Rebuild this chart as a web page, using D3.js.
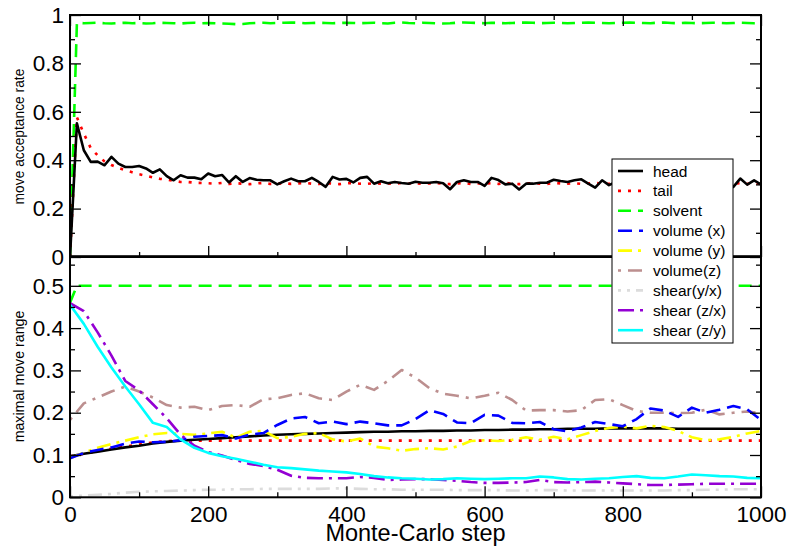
<!DOCTYPE html>
<html><head><meta charset="utf-8">
<script src="https://cdn.jsdelivr.net/npm/d3@7"></script>
<style>body{margin:0;background:#fff}svg{display:block}text{font-family:"Liberation Sans",Arial,Helvetica,sans-serif}</style>
</head><body><svg id="c" width="787" height="550"></svg>
<script>
// ---------- data ----------
const topSteps = d3.range(0, 1001, 10);
const headRate = [0,0.552,0.441,0.393,0.394,0.379,0.414,0.386,0.372,0.372,0.376,0.366,0.348,0.362,0.334,0.317,0.338,0.328,0.328,0.321,0.345,0.334,0.339,0.308,0.334,0.31,0.326,0.319,0.317,0.317,0.30,0.313,0.324,0.313,0.313,0.327,0.31,0.29,0.331,0.32,0.323,0.308,0.327,0.331,0.303,0.313,0.305,0.31,0.306,0.303,0.311,0.307,0.307,0.31,0.305,0.28,0.31,0.317,0.31,0.31,0.294,0.327,0.318,0.3,0.303,0.279,0.303,0.303,0.307,0.307,0.319,0.314,0.31,0.317,0.321,0.303,0.287,0.317,0.297,0.31,0.305,0.318,0.302,0.311,0.296,0.315,0.308,0.32,0.303,0.31,0.298,0.314,0.306,0.317,0.302,0.308,0.29,0.324,0.299,0.317,0.3];
const tailRate = [0,0.577,0.51,0.45,0.42,0.395,0.38,0.368,0.358,0.35,0.342,0.336,0.329,0.323,0.32,0.315,0.31,0.31,0.307,0.306,0.305,0.303,0.306,0.302,0.305,0.303,0.301,0.304,0.306,0.302,0.303,0.305,0.302,0.304,0.306,0.303,0.302,0.305,0.303,0.301,0.304,0.306,0.303,0.302,0.305,0.303,0.304,0.302,0.306,0.303,0.305,0.302,0.304,0.306,0.303,0.301,0.304,0.306,0.302,0.304,0.303,0.305,0.302,0.306,0.303,0.301,0.304,0.305,0.303,0.302,0.306,0.304,0.303,0.305,0.302,0.304,0.306,0.303,0.302,0.305,0.303,0.304,0.302,0.306,0.303,0.305,0.302,0.304,0.306,0.303,0.302,0.305,0.303,0.304,0.302,0.306,0.303,0.305,0.302,0.304,0.303];
const solventRate = [0,0.968,0.966,0.967,0.968,0.966,0.965,0.967,0.968,0.966,0.967,0.965,0.966,0.968,0.967,0.966,0.965,0.967,0.968,0.966,0.967,0.966,0.965,0.964,0.962,0.963,0.966,0.967,0.968,0.966,0.967,0.968,0.969,0.968,0.966,0.967,0.968,0.967,0.966,0.967,0.968,0.967,0.966,0.967,0.968,0.966,0.965,0.968,0.969,0.967,0.966,0.968,0.967,0.966,0.965,0.966,0.968,0.969,0.968,0.967,0.966,0.968,0.967,0.966,0.967,0.968,0.969,0.968,0.966,0.967,0.968,0.967,0.966,0.967,0.968,0.969,0.968,0.967,0.966,0.967,0.968,0.969,0.968,0.967,0.966,0.968,0.969,0.967,0.966,0.968,0.967,0.966,0.967,0.968,0.967,0.966,0.967,0.968,0.967,0.966,0.967];

const botSteps = d3.range(0, 1001, 20);
const headRange = [0.097,0.103,0.108,0.113,0.118,0.122,0.127,0.131,0.134,0.136,0.138,0.14,0.142,0.144,0.146,0.148,0.149,0.15,0.151,0.152,0.153,0.154,0.155,0.155,0.156,0.156,0.157,0.157,0.158,0.158,0.159,0.159,0.16,0.16,0.161,0.161,0.162,0.162,0.162,0.163,0.163,0.163,0.163,0.163,0.162,0.162,0.162,0.162,0.162,0.162,0.162];
const tailRange = [0.097,0.103,0.109,0.115,0.12,0.125,0.13,0.133,0.134,0.134,0.134,0.134,0.134,0.134,0.134,0.134,0.134,0.134,0.134,0.134,0.134,0.134,0.134,0.134,0.134,0.134,0.134,0.134,0.134,0.134,0.134,0.134,0.134,0.134,0.134,0.134,0.134,0.134,0.134,0.134,0.134,0.134,0.134,0.134,0.134,0.134,0.134,0.134,0.134,0.134,0.134];
const solventSteps = [0, 10, 1000];
const solventRange = [0.46, 0.5, 0.5];
const volXRange = [0.092,0.105,0.112,0.118,0.127,0.132,0.13,0.131,0.135,0.143,0.145,0.147,0.139,0.148,0.152,0.171,0.186,0.19,0.175,0.179,0.173,0.179,0.175,0.17,0.17,0.185,0.206,0.197,0.177,0.175,0.195,0.193,0.176,0.175,0.178,0.161,0.156,0.165,0.178,0.173,0.168,0.185,0.21,0.205,0.19,0.212,0.2,0.207,0.216,0.208,0.183];
const volYRange = [0.092,0.106,0.117,0.126,0.134,0.142,0.149,0.152,0.15,0.148,0.151,0.155,0.141,0.155,0.157,0.14,0.143,0.15,0.152,0.137,0.132,0.139,0.12,0.116,0.11,0.114,0.116,0.113,0.12,0.133,0.135,0.133,0.136,0.142,0.136,0.143,0.137,0.147,0.157,0.164,0.167,0.163,0.169,0.166,0.157,0.142,0.135,0.137,0.143,0.151,0.157];
const volZRange = [0.183,0.222,0.236,0.25,0.262,0.25,0.236,0.218,0.212,0.214,0.206,0.216,0.218,0.214,0.232,0.234,0.242,0.246,0.234,0.23,0.25,0.266,0.254,0.275,0.301,0.283,0.258,0.245,0.24,0.234,0.24,0.247,0.23,0.205,0.206,0.206,0.203,0.206,0.23,0.232,0.218,0.204,0.2,0.2,0.199,0.2,0.207,0.196,0.2,0.203,0.199];
const shearYXRange = [0.002,0.004,0.006,0.008,0.011,0.013,0.014,0.015,0.016,0.017,0.018,0.018,0.019,0.019,0.02,0.02,0.02,0.02,0.02,0.021,0.021,0.02,0.019,0.019,0.018,0.018,0.018,0.018,0.017,0.017,0.017,0.017,0.016,0.016,0.017,0.017,0.016,0.016,0.016,0.016,0.016,0.016,0.016,0.016,0.017,0.017,0.018,0.018,0.019,0.019,0.019];
const shearZXRange = [0.459,0.44,0.39,0.335,0.275,0.253,0.22,0.187,0.148,0.122,0.107,0.099,0.088,0.079,0.074,0.065,0.051,0.046,0.045,0.045,0.045,0.048,0.046,0.041,0.042,0.043,0.043,0.041,0.039,0.036,0.034,0.034,0.035,0.036,0.041,0.036,0.035,0.036,0.037,0.035,0.033,0.031,0.029,0.029,0.03,0.031,0.032,0.032,0.032,0.032,0.032];
const shearZYRange = [0.455,0.41,0.356,0.307,0.262,0.22,0.176,0.166,0.137,0.117,0.105,0.097,0.091,0.084,0.077,0.071,0.069,0.066,0.063,0.061,0.059,0.055,0.05,0.047,0.045,0.044,0.042,0.043,0.045,0.044,0.043,0.044,0.045,0.045,0.049,0.047,0.043,0.042,0.044,0.045,0.048,0.05,0.046,0.045,0.049,0.054,0.052,0.05,0.049,0.046,0.045];

const xTicks = [0, 200, 400, 600, 800, 1000];
const topYTicks = [0, 0.2, 0.4, 0.6, 0.8, 1];
const botYTicks = [0, 0.1, 0.2, 0.3, 0.4, 0.5];
const legendLabels = ["head","tail","solvent","volume (x)","volume (y)","volume(z)","shear(y/x)","shear (z/x)","shear (z/y)"];

// ---------- styles ----------
const styles = {
  "head":        {color:"#000000", dash:null},
  "tail":        {color:"#ff0000", dash:"3,7"},
  "solvent":     {color:"#00ff00", dash:"13,7"},
  "volume (x)":  {color:"#0000ff", dash:"14,7"},
  "volume (y)":  {color:"#ffff00", dash:"14,6,3,6"},
  "volume(z)":   {color:"#bc8f8f", dash:"3,7,14,7"},
  "shear(y/x)":  {color:"#dcdcdc", dash:"3,6,3,6,14,6"},
  "shear (z/x)": {color:"#9400d3", dash:"16,6,3,6"},
  "shear (z/y)": {color:"#00ffff", dash:null}
};

const svg = d3.select("#c");
const L = 70, R = 761;
const x = d3.scaleLinear().domain([0, 1000]).range([L, R]);
const yTop = d3.scaleLinear().domain([0, 1]).range([257, 15]);
const yBot = d3.scaleLinear().domain([0, 0.57]).range([497.3, 256.2]);

svg.append("defs").call(d => {
  d.append("clipPath").attr("id","cTop").append("rect").attr("x",L).attr("y",15).attr("width",R-L).attr("height",242);
  d.append("clipPath").attr("id","cBot").append("rect").attr("x",L).attr("y",256.2).attr("width",R-L).attr("height",241.1);
});

function drawLine(clip, xs, ys, yScale, name) {
  const st = styles[name];
  const pts = xs.map((s, i) => [s, ys[i]]);
  const p = svg.append("path").attr("clip-path", `url(#${clip})`)
    .datum(pts)
    .attr("fill","none").attr("stroke", st.color).attr("stroke-width", 2.6)
    .attr("stroke-linejoin","round")
    .attr("d", d3.line().x(d => x(d[0])).y(d => yScale(d[1])));
  if (st.dash) p.attr("stroke-dasharray", st.dash);
}

// top panel
drawLine("cTop", topSteps, solventRate, yTop, "solvent");
drawLine("cTop", topSteps, tailRate, yTop, "tail");
drawLine("cTop", topSteps, headRate, yTop, "head");

// bottom panel
drawLine("cBot", botSteps, shearYXRange, yBot, "shear(y/x)");
drawLine("cBot", botSteps, volZRange, yBot, "volume(z)");
drawLine("cBot", solventSteps, solventRange, yBot, "solvent");
drawLine("cBot", botSteps, tailRange, yBot, "tail");
drawLine("cBot", botSteps, headRange, yBot, "head");
drawLine("cBot", botSteps, volYRange, yBot, "volume (y)");
drawLine("cBot", botSteps, volXRange, yBot, "volume (x)");
drawLine("cBot", botSteps, shearZXRange, yBot, "shear (z/x)");
drawLine("cBot", botSteps, shearZYRange, yBot, "shear (z/y)");

// axes
const xMinor = d3.range(0, 1001, 100).filter(v => v % 200 !== 0);
function axisGroup(gen, tx, ty) {
  const g = svg.append("g").attr("transform", `translate(${tx},${ty})`).call(gen);
  g.select(".domain").remove();
  g.selectAll(".tick line").attr("stroke","#000").attr("stroke-width",1.3);
  return g;
}
function styleLabels(g) {
  g.selectAll("text").attr("font-size", 22.5).attr("fill","#000");
}
function panelAxes(yScale, yMajor, yMinorVals, y0, y1, showX) {
  let g = axisGroup(d3.axisBottom(x).tickValues(xTicks).tickSizeInner(-11).tickFormat(showX ? d3.format("d") : ""), 0, y0);
  if (showX) { styleLabels(g); g.selectAll("text").attr("dy", null).attr("y", 24.5); }
  axisGroup(d3.axisBottom(x).tickValues(xMinor).tickSizeInner(-5).tickFormat(""), 0, y0);
  if (!showX) {
    axisGroup(d3.axisTop(x).tickValues(xTicks).tickSizeInner(-11).tickFormat(""), 0, y1);
    axisGroup(d3.axisTop(x).tickValues(xMinor).tickSizeInner(-5).tickFormat(""), 0, y1);
  }
  g = axisGroup(d3.axisLeft(yScale).tickValues(yMajor).tickSizeInner(-11).tickPadding(6).tickFormat(d => d === 0 ? "0" : (d === 1 ? "1" : d3.format(".1f")(d))), L, 0);
  styleLabels(g);
  axisGroup(d3.axisLeft(yScale).tickValues(yMinorVals).tickSizeInner(-5).tickFormat(""), L, 0);
  axisGroup(d3.axisRight(yScale).tickValues(yMajor).tickSizeInner(-11).tickFormat(""), R, 0);
  axisGroup(d3.axisRight(yScale).tickValues(yMinorVals).tickSizeInner(-5).tickFormat(""), R, 0);
  svg.append("rect").attr("x", L).attr("y", y1).attr("width", R - L).attr("height", y0 - y1)
    .attr("fill","none").attr("stroke","#000").attr("stroke-width",2);
}
panelAxes(yTop, topYTicks, [0.1,0.3,0.5,0.7,0.9], 257, 15, false);
panelAxes(yBot, botYTicks, [0.05,0.15,0.25,0.35,0.45,0.55], 497.3, 256.2, true);

// axis titles
svg.append("text").attr("x", (L + R) / 2).attr("y", 541).attr("text-anchor","middle")
  .attr("font-size", 23.5).text("Monte-Carlo step");
svg.append("text").attr("transform", `translate(24,136.5) rotate(-90)`).attr("text-anchor","middle")
  .attr("font-size", 13.8).text("move acceptance rate");
svg.append("text").attr("transform", `translate(24,376.5) rotate(-90)`).attr("text-anchor","middle")
  .attr("font-size", 14.2).text("maximal move range");

// legend
const lg = svg.append("g");
lg.append("rect").attr("x", 612).attr("y", 159).attr("width", 121).attr("height", 184)
  .attr("fill","#fff").attr("stroke","#000").attr("stroke-width",1);
legendLabels.forEach((name, i) => {
  const yy = 171 + i * 19.9;
  const st = styles[name];
  const l = lg.append("line").attr("x1", 618).attr("x2", 643).attr("y1", yy).attr("y2", yy)
    .attr("stroke", st.color).attr("stroke-width", 2.6);
  if (st.dash) l.attr("stroke-dasharray", st.dash);
  lg.append("text").attr("x", 653).attr("y", yy).attr("dominant-baseline","central")
    .attr("font-size", 15.5).text(name);
});
</script></body></html>
